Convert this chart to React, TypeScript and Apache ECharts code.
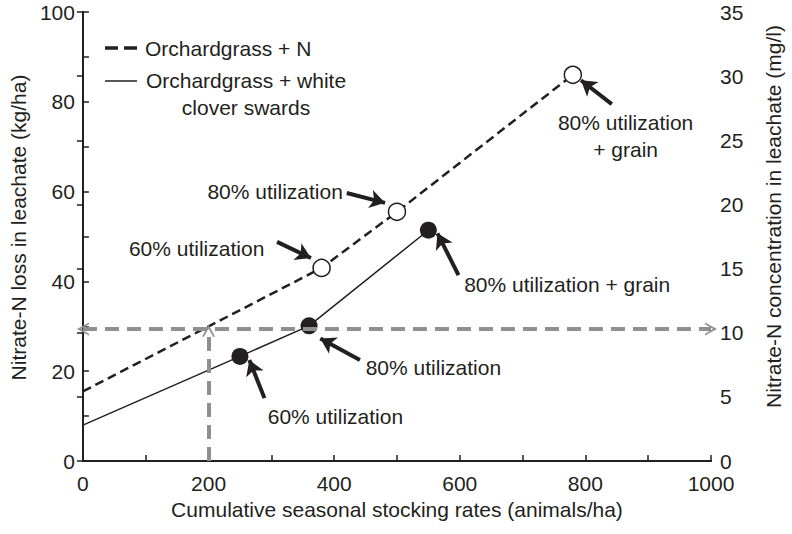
import React, { useEffect, useRef } from "react";
import * as echarts from "echarts";

// ---- data ----
const nSeries: [number, number][] = [[0, 15.5], [380, 43], [500, 55.5], [780, 86]];
const cloverSeries: [number, number][] = [[0, 8], [250, 23.3], [360, 30.1], [550, 51.4]];
const thresholdY = 29.4; // kg/ha  (~10 mg/l)
const thresholdX = 200; // animals/ha
const xTicks = { min: 0, max: 1000, interval: 100 };
const yLeft = { min: 0, max: 100, interval: 10 };
const yRight = { min: 0, max: 35, interval: 5 };

// arrows: [tailX, tailY, tipX, tipY]
const arrows: [number, number, number, number][] = [
  [309, 48.8, 363, 45.2],
  [420, 59.7, 481, 57.5],
  [842, 79.5, 793, 84.8],
  [289, 14, 265, 22.5],
  [441, 22.5, 378, 27.3],
  [598, 41.4, 564.5, 50.7],
];
// annotation texts: [x, y, text]
const notes: [number, number, string][] = [
  [181, 47.4, "60% utilization"],
  [306, 60.1, "80% utilization"],
  [864, 72.3, "80% utilization\n+ grain"],
  [771, 39.2, "80% utilization + grain"],
  [558, 20.9, "80% utilization"],
  [402, 9.8, "60% utilization"],
];
const legendItems = ["Orchardgrass + N", "Orchardgrass + white\nclover swards"];

const INK = "#231f20";
const GRAY = "#8f8f8f";
const FONT = "'Liberation Sans', Arial, Helvetica, sans-serif";
const FS = 21;
const CHEVRON = "path://M0,10 L5,0 L10,10 L8.6,10 L5,3.2 L1.4,10 Z";

export default function App() {
  const ref = useRef<HTMLDivElement>(null);
  useEffect(() => {
    if (!ref.current) return;
    const chart = echarts.init(ref.current, null, { renderer: "svg" });
    const textStyle = { color: INK, fontSize: FS, fontFamily: FONT };
    const axisLine = { show: true, lineStyle: { color: INK, width: 2 } };
    const axisTick = { show: true, inside: true, length: 6, lineStyle: { color: INK, width: 1.5 } };
    chart.setOption({
      animation: false,
      textStyle,
      grid: { left: 82, right: 76, top: 12, bottom: 73, containLabel: false },
      xAxis: [
        {
          type: "value",
          ...xTicks,
          axisLine,
          axisTick,
          splitLine: { show: false },
          axisLabel: {
            ...textStyle,
            margin: 12,
            formatter: (v: number) => (v % 200 === 0 ? String(v) : ""),
          },
          name: "Cumulative seasonal stocking rates (animals/ha)",
          nameLocation: "middle",
          nameGap: 31,
          nameTextStyle: textStyle,
        },
        {
          type: "value",
          position: "top",
          ...xTicks,
          axisLine,
          axisTick: { show: false },
          axisLabel: { show: false },
          splitLine: { show: false },
        },
      ],
      yAxis: [
        {
          type: "value",
          ...yLeft,
          axisLine,
          axisTick,
          splitLine: { show: false },
          axisLabel: {
            ...textStyle,
            margin: 8,
            formatter: (v: number) => (v % 20 === 0 ? String(v) : ""),
          },
          name: "Nitrate-N loss in leachate (kg/ha)",
          nameLocation: "middle",
          nameGap: 48,
          nameTextStyle: { ...textStyle, padding: [0, 0, 0, 18] },
        },
        {
          type: "value",
          position: "right",
          ...yRight,
          axisLine,
          axisTick,
          splitLine: { show: false },
          axisLabel: { ...textStyle, margin: 9 },
          name: "Nitrate-N concentration in leachate (mg/l)",
          nameLocation: "middle",
          nameGap: 52,
          nameRotate: 90,
          nameTextStyle: { ...textStyle, padding: [0, 0, 0, 40] },
        },
      ],
      series: [
        {
          name: "threshold",
          type: "line",
          data: [],
          z: 1,
          markLine: {
            silent: true,
            label: { show: false },
            lineStyle: { color: GRAY, width: 4, type: [14, 8] },
            symbolSize: [13, 12],
            data: [
              [
                { coord: [xTicks.min, thresholdY], symbol: CHEVRON },
                { coord: [xTicks.max, thresholdY], symbol: CHEVRON },
              ],
              [
                { coord: [thresholdX, 0], symbol: "none" },
                { coord: [thresholdX, thresholdY - 0.4], symbol: CHEVRON },
              ],
            ],
          },
        },
        {
          name: legendItems[0],
          type: "line",
          z: 3,
          data: nSeries.map((p, i) => (i === 0 ? { value: p, symbol: "none" } : { value: p })),
          symbol: "circle",
          symbolSize: 17,
          showAllSymbol: true,
          lineStyle: { color: INK, width: 2.5, type: [9, 5] },
          itemStyle: { color: "#ffffff", borderColor: INK, borderWidth: 1.5 },
        },
        {
          name: legendItems[1],
          type: "line",
          z: 3,
          data: cloverSeries.map((p, i) => (i === 0 ? { value: p, symbol: "none" } : { value: p })),
          symbol: "circle",
          symbolSize: 17,
          showAllSymbol: true,
          lineStyle: { color: INK, width: 1.5 },
          itemStyle: { color: INK, borderColor: INK, borderWidth: 0 },
        },
        {
          name: "notes",
          type: "scatter",
          z: 4,
          symbolSize: 1,
          itemStyle: { color: "rgba(0,0,0,0)", opacity: 1 },
          data: notes.map(([x, y, t]) => ({ value: [x, y], name: t })),
          label: {
            show: true,
            position: "inside",
            formatter: (p: any) => p.name,
            color: INK,
            opacity: 1,
            fontSize: FS,
            fontFamily: FONT,
            lineHeight: 27,
            align: "center",
          },
          markLine: {
            silent: true,
            label: { show: false },
            symbol: ["none", "arrow"],
            symbolSize: [14, 15],
            lineStyle: { color: INK, width: 4, type: "solid", opacity: 1 },
            itemStyle: { color: INK, opacity: 1 },
            data: arrows.map(([x0, y0, x1, y1]) => [{ coord: [x0, y0] }, { coord: [x1, y1] }]),
          },
        },
      ],
      graphic: [
        {
          type: "line",
          shape: { x1: 105, y1: 48, x2: 137, y2: 48 },
          style: { stroke: INK, lineWidth: 3.5, lineDash: [13, 6] },
        },
        {
          type: "text",
          x: 145,
          y: 48,
          style: { text: legendItems[0], fill: INK, font: `${FS}px ${FONT}`, verticalAlign: "middle" },
        },
        {
          type: "line",
          shape: { x1: 105, y1: 81, x2: 137, y2: 81 },
          style: { stroke: INK, lineWidth: 1.5 },
        },
        {
          type: "text",
          x: 246,
          y: 67,
          style: {
            text: legendItems[1],
            fill: INK,
            font: `${FS}px ${FONT}`,
            align: "center",
            verticalAlign: "top",
            lineHeight: 27,
          },
        },
      ],
    });
    return () => chart.dispose();
  }, []);
  return (
    <div
      ref={ref}
      style={{ position: "absolute", left: 0, top: 0, width: 792, height: 534, background: "#ffffff" }}
    />
  );
}
